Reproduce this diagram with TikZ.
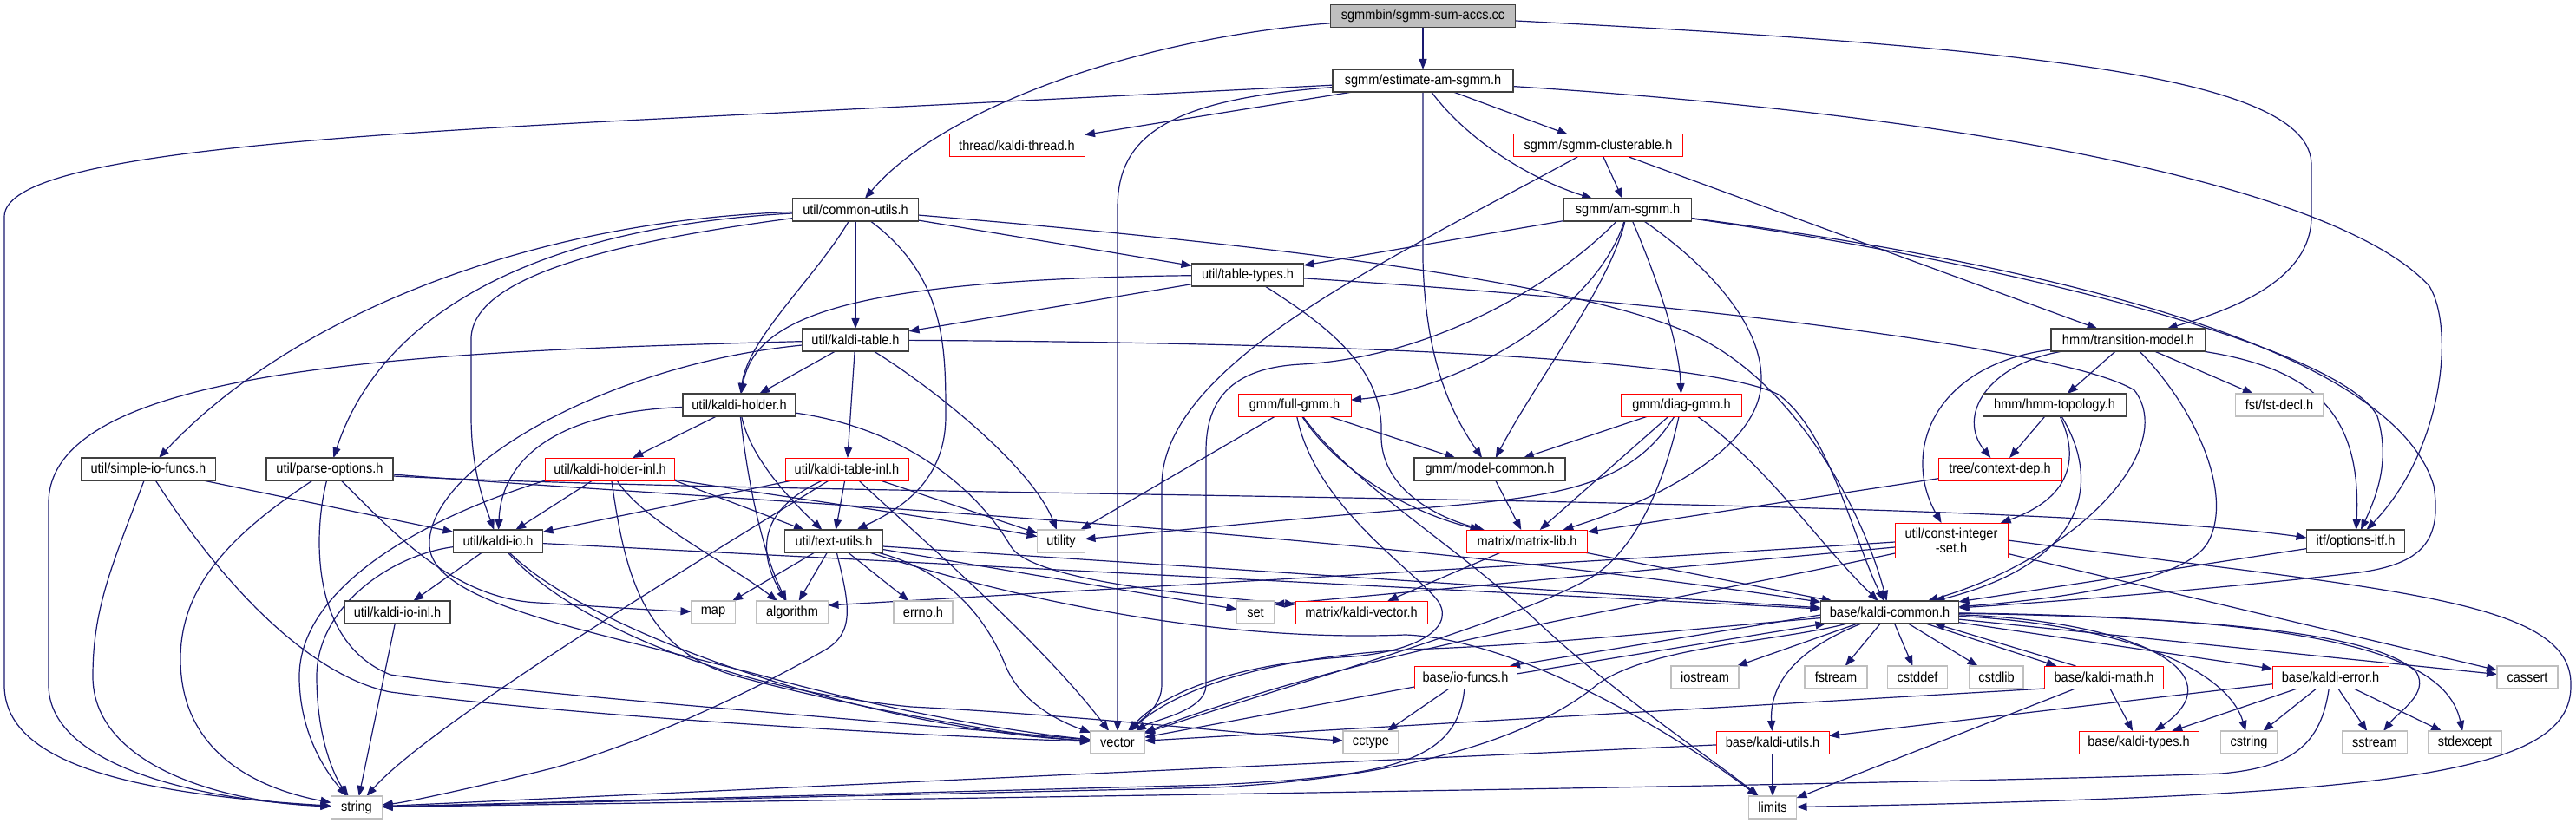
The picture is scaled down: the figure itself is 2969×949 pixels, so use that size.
\documentclass[tikz,border=0pt]{standalone}
\usepackage{fontspec}
\setmainfont{Liberation Sans}[FakeStretch=0.91]
\usetikzlibrary{arrows.meta,calc,backgrounds}
\definecolor{edgec}{HTML}{191970}
\definecolor{lgray}{HTML}{BFBFBF}
\definecolor{dborder}{HTML}{404040}
\begin{document}
\begin{tikzpicture}[x=1pt,y=-1pt,
  every node/.style={rectangle,inner sep=0pt,outer sep=0pt,minimum height=26pt,font=\fontsize{16}{17}\selectfont,fill=white},
  nb/.style={draw=dborder,line width=1.7pt},
  nr/.style={draw=red,line width=1.0pt},
  ng/.style={draw=lgray,line width=1.1pt},
  nroot/.style={draw=dborder,line width=1.7pt,fill=lgray},
  e/.style={draw=edgec,line width=1.2pt,-{Triangle[length=12pt,width=9pt]}}]
\useasboundingbox (0,0) rectangle (2969,949);
% ---------------- nodes
\node[nroot,minimum width=213] (S0) at (1640,18.5) {sgmmbin/sgmm-sum-accs.cc};
\node[nb,minimum width=208] (E) at (1640,93) {sgmm/estimate-am-sgmm.h};
\node[nr,minimum width=156] (TH) at (1172,168) {thread/kaldi-thread.h};
\node[nr,minimum width=195] (C) at (1842,168) {sgmm/sgmm-clusterable.h};
\node[nb,minimum width=145] (CU) at (986,242) {util/common-utils.h};
\node[nb,minimum width=147] (A) at (1876,242) {sgmm/am-sgmm.h};
\node[nb,minimum width=129] (TT) at (1438,317) {util/table-types.h};
\node[nb,minimum width=123] (KT) at (986,392) {util/kaldi-table.h};
\node[nb,minimum width=178] (T) at (2453,392) {hmm/transition-model.h};
\node[nb,minimum width=130] (KH) at (852,467) {util/kaldi-holder.h};
\node[nr,minimum width=130] (FG) at (1492,467) {gmm/full-gmm.h};
\node[nr,minimum width=139] (DG) at (1938,467) {gmm/diag-gmm.h};
\node[nb,minimum width=165] (H) at (2368,467) {hmm/hmm-topology.h};
\node[ng,minimum width=101] (FD) at (2627,467) {fst/fst-decl.h};
\node[nb,minimum width=155] (SI) at (171,541) {util/simple-io-funcs.h};
\node[nb,minimum width=146] (PO) at (380,541) {util/parse-options.h};
\node[nr,minimum width=149] (HI) at (703,541) {util/kaldi-holder-inl.h};
\node[nr,minimum width=142] (TI) at (976,541) {util/kaldi-table-inl.h};
\node[nb,minimum width=174] (MC) at (1717,541) {gmm/model-common.h};
\node[nr,minimum width=142] (CD) at (2305,541) {tree/context-dep.h};
\node[nb,minimum width=103] (KI) at (574,624) {util/kaldi-io.h};
\node[nb,minimum width=113] (TU) at (961,624) {util/text-utils.h};
\node[ng,minimum width=55] (UT) at (1223,624) {utility};
\node[nr,minimum width=139] (ML) at (1760,624) {matrix/matrix-lib.h};
\node[nr,minimum width=130,minimum height=40,align=center] (CI) at (2249,623) {util/const-integer\\-set.h};
\node[nb,minimum width=113] (OI) at (2715,624) {itf/options-itf.h};
\node[nb,minimum width=122] (IO) at (458,706) {util/kaldi-io-inl.h};
\node[ng,minimum width=51] (MAP) at (822,706) {map};
\node[ng,minimum width=83] (ALG) at (913,706) {algorithm};
\node[ng,minimum width=68] (ERR) at (1064,706) {errno.h};
\node[ng,minimum width=43] (SET) at (1447,706) {set};
\node[nr,minimum width=152] (KV) at (1569,706) {matrix/kaldi-vector.h};
\node[nb,minimum width=159] (KC) at (2178,706) {base/kaldi-common.h};
\node[nr,minimum width=118] (IF) at (1689,781) {base/io-funcs.h};
\node[ng,minimum width=78] (IOS) at (1965,781) {iostream};
\node[ng,minimum width=72] (FS) at (2116,781) {fstream};
\node[ng,minimum width=69] (CDF) at (2210,781) {cstddef};
\node[ng,minimum width=62] (CSL) at (2301,781) {cstdlib};
\node[nr,minimum width=137] (KM) at (2425,781) {base/kaldi-math.h};
\node[nr,minimum width=134] (KE) at (2686,781) {base/kaldi-error.h};
\node[ng,minimum width=70] (CAS) at (2913,781) {cassert};
\node[ng,minimum width=62] (VEC) at (1288,856) {vector};
\node[ng,minimum width=64] (CCT) at (1580,856) {cctype};
\node[nr,minimum width=130] (KU) at (2043,856) {base/kaldi-utils.h};
\node[nr,minimum width=138] (KTY) at (2465,856) {base/kaldi-types.h};
\node[ng,minimum width=65] (CST) at (2592,856) {cstring};
\node[ng,minimum width=75] (SS) at (2737,856) {sstream};
\node[ng,minimum width=85] (SE) at (2841,856) {stdexcept};
\node[ng,minimum width=59] (STR) at (411,931) {string};
\node[ng,minimum width=55] (LIM) at (2043,931) {limits};
% ---------------- edges
\begin{pgfonlayer}{background}
\fill[white] (0,0) rectangle (2969,949);
% root
\draw[e] (S0) .. controls (1300,45) and (1080,130) .. (CU);
\draw[e] (S0) -- (E);
\draw[e] (S0) .. controls (2350,55) and (2664,90) .. (2664,190) -- (2664,250) .. controls (2664,320) and (2580,355) .. (T);
% estimate-am-sgmm
\draw[e] (E) -- (760,137) .. controls (300,160) and (5,185) .. (5,250) -- (5,790) .. controls (5,880) and (150,915) .. (STR);
\draw[e] (E) -- (TH);
\draw[e] (E) .. controls (1340,115) and (1288,160) .. (1288,240) -- (VEC);
\draw[e] (E) -- (C);
\draw[e] (E) .. controls (1690,160) and (1760,205) .. (A);
\draw[e] (E) -- (1640,300) .. controls (1643,420) and (1675,480) .. (MC);
\draw[e] (E) .. controls (2300,135) and (2700,220) .. (2800,330) .. controls (2830,380) and (2815,520) .. (OI);
% clusterable
\draw[e] (C) .. controls (1600,300) and (1339,420) .. (1339,560) -- (1339,790) .. controls (1339,815) and (1315,830) .. (VEC);
\draw[e] (C) -- (A);
\draw[e] (C) -- (T);
% am-sgmm
\draw[e] (A) -- (TT);
\draw[e] (A) .. controls (1790,330) and (1650,412) .. (1500,420) .. controls (1420,424) and (1390,460) .. (1390,520) -- (1390,790) .. controls (1390,820) and (1330,830) .. (VEC);
\draw[e] (A) .. controls (1840,360) and (1680,450) .. (FG);
\draw[e] (A) .. controls (1855,330) and (1770,440) .. (MC);
\draw[e] (A) .. controls (1905,310) and (1935,390) .. (DG);
\draw[e] (A) .. controls (1960,300) and (2032,370) .. (2030,440) .. controls (2028,520) and (1900,580) .. (ML);
\draw[e] (A) .. controls (2300,300) and (2700,400) .. (2740,480) .. controls (2755,530) and (2740,570) .. (OI);
\draw[e] (A) .. controls (2400,310) and (2760,410) .. (2805,560) .. controls (2815,625) and (2790,650) .. (2720,660) .. controls (2550,680) and (2350,695) .. (KC);
% transition-model
\draw[e] (T) -- (H);
\draw[e] (T) -- (FD);
\draw[e] (T) .. controls (2290,420) and (2255,480) .. (CD);
\draw[e] (T) .. controls (2230,420) and (2190,520) .. (CI);
\draw[e] (T) .. controls (2670,425) and (2722,480) .. (OI);
\draw[e] (T) .. controls (2530,470) and (2575,570) .. (2545,625) .. controls (2520,670) and (2380,690) .. (KC);
% hmm-topology
\draw[e] (H) -- (CD);
\draw[e] (H) .. controls (2398,530) and (2385,575) .. (CI);
\draw[e] (H) .. controls (2425,560) and (2400,650) .. (KC);
% context-dep
\draw[e] (CD) -- (ML);
% const-integer-set
\draw[e] ($(CI.west)+(0,8)$) -- ($(SET.east)+(0,-9)$);
\draw[e] ($(CI.west)+(0,2)$) .. controls (1800,650) and (1400,672) .. ($(ALG.east)+(0,-8)$);
\draw[e] ($(CI.west)+(0,15)$) .. controls (1900,700) and (1600,740) .. (VEC);
\draw[e] (CI.east) .. controls (2750,680) and (2965,690) .. (2963,790) .. controls (2965,895) and (2750,918) .. (LIM);
\draw[e] (CI) -- (CAS);
% table-types
\draw[e] (TT) -- (KT);
\draw[e] (TT) .. controls (980,322) and (870,365) .. (KH);
\draw[e] (TT) .. controls (1520,370) and (1595,420) .. (1592,500) .. controls (1590,560) and (1650,595) .. (ML);
\draw[e] (TT) .. controls (1900,345) and (2380,400) .. (2460,450) .. controls (2510,515) and (2400,640) .. (KC);
% common-utils
\draw[e] (CU) .. controls (600,255) and (330,370) .. (SI);
\draw[e] (CU) .. controls (620,262) and (440,360) .. (PO);
\draw[e] (CU) .. controls (700,280) and (545,320) .. (543,390) -- (543,480) .. controls (543,545) and (560,585) .. (KI);
\draw[e] (CU) .. controls (940,320) and (862,390) .. (KH);
\draw[e] (CU) -- (KT);
\draw[e] (CU) .. controls (1090,320) and (1090,400) .. (1090,480) .. controls (1090,560) and (1030,590) .. (TU);
\draw[e] (CU) -- (TT);
\draw[e] (CU) .. controls (1500,285) and (1850,330) .. (1965,393) .. controls (2080,455) and (2150,600) .. (KC);
% kaldi-table
\draw[e] (KT) -- (KH);
\draw[e] (KT) -- (TI);
\draw[e] (KT) .. controls (1080,450) and (1190,540) .. (UT);
\draw[e] (KT) .. controls (500,405) and (56,420) .. (56,580) -- (56,790) .. controls (56,880) and (220,922) .. (STR);
\draw[e] (KT) .. controls (700,420) and (490,540) .. (495,630) .. controls (500,700) and (700,730) .. (900,785) .. controls (1050,825) and (1180,845) .. (VEC);
\draw[e] (KT) .. controls (1500,395) and (1960,410) .. (2050,455) .. controls (2110,500) and (2135,620) .. (KC);
% kaldi-holder
\draw[e] (KH) -- (HI);
\draw[e] (KH) .. controls (640,475) and (578,530) .. (KI);
\draw[e] (KH) .. controls (865,530) and (915,580) .. (TU);
\draw[e] (KH) .. controls (862,560) and (880,640) .. (ALG);
\draw[e] (KH) .. controls (1050,495) and (1130,570) .. (1165,630) .. controls (1190,672) and (1400,688) .. ($(KV.west)+(0,-9)$);
% kaldi-holder-inl
\draw[e] (HI) -- (KI);
\draw[e] (HI.south west) .. controls (480,600) and (345,680) .. (345,780) .. controls (345,850) and (380,895) .. (STR);
\draw[e] (HI.south east) -- (TU);
\draw[e] (HI) .. controls (740,600) and (840,650) .. (ALG);
\draw[e] (HI) .. controls (850,565) and (1100,600) .. (UT);
\draw[e] (HI) .. controls (720,660) and (740,750) .. (850,780) .. controls (1000,820) and (1180,850) .. (VEC);
% kaldi-table-inl
\draw[e] (TI) -- (KI);
\draw[e] (TI) -- (TU);
\draw[e] (TI) .. controls (870,590) and (875,640) .. (ALG);
\draw[e] (TI) -- (UT);
\draw[e] (TI) .. controls (1060,620) and (1200,740) .. (VEC);
\draw[e] (TI) .. controls (850,620) and (500,830) .. (STR);
% text-utils
\draw[e] (TU) -- (MAP);
\draw[e] (TU) -- (ALG);
\draw[e] (TU) -- (ERR);
\draw[e] (TU) .. controls (980,700) and (985,730) .. (950,750) .. controls (880,790) and (760,850) .. (640,885) .. controls (560,905) and (470,925) .. (STR);
\draw[e] (TU) .. controls (1100,660) and (1140,720) .. (1160,770) .. controls (1180,815) and (1230,835) .. (VEC);
\draw[e] (TU) -- (SET);
\draw[e] ($(TU.east)+(0,6)$) -- (KC);
\draw[e] (TU) .. controls (1200,700) and (1420,740) .. (1620,732) .. controls (1760,738) and (1950,860) .. (LIM);
% kaldi-io
\draw[e] (KI) -- (IO);
\draw[e] (KI) .. controls (450,640) and (365,700) .. (365,780) .. controls (365,850) and (385,895) .. (STR);
\draw[e] (KI) .. controls (640,700) and (800,790) .. (1050,815) .. controls (1250,825) and (1450,848) .. (CCT);
\draw[e] (KI) -- (KC);
\draw[e] (KI) .. controls (680,730) and (1000,840) .. (VEC);
\draw[e] (IO) -- (STR);
% simple-io-funcs
\draw[e] (SI) -- (KI);
\draw[e] (SI) .. controls (130,650) and (107,700) .. (107,780) .. controls (107,880) and (250,925) .. (STR);
\draw[e] (SI) .. controls (260,680) and (360,780) .. (450,798) .. controls (700,830) and (1100,850) .. (VEC);
% parse-options
\draw[e] (PO) .. controls (260,620) and (208,680) .. (208,760) .. controls (208,870) and (300,910) .. (STR);
\draw[e] (PO) .. controls (362,610) and (355,740) .. (450,778) .. controls (600,800) and (1000,830) .. (VEC);
\draw[e] (PO) .. controls (450,610) and (520,690) .. (620,695) .. controls (700,700) and (760,704) .. (MAP);
\draw[e] ($(PO.east)+(0,6)$) .. controls (800,575) and (1500,605) .. (KC);
\draw[e] ($(PO.east)+(0,8)$) .. controls (1000,575) and (2300,570) .. ($(OI.west)+(0,-4)$);
% gmm
\draw[e] (MC) -- (ML);
\draw[e] (FG) -- (UT);
\draw[e] (FG) -- (MC);
\draw[e] (FG) .. controls (1540,540) and (1620,590) .. (ML);
\draw[e] (FG) .. controls (1515,580) and (1620,650) .. (1655,690) .. controls (1680,720) and (1640,750) .. (1560,757) .. controls (1420,765) and (1340,800) .. (VEC);
\draw[e] (FG) .. controls (1560,560) and (1680,630) .. (1770,715) .. controls (1860,800) and (1980,880) .. (LIM);
\draw[e] (DG) -- (MC);
\draw[e] (DG) -- (ML);
\draw[e] (DG) .. controls (1880,560) and (1800,572) .. (1650,585) .. controls (1450,602) and (1300,617) .. (UT);
\draw[e] (DG) .. controls (1915,570) and (1880,640) .. (1830,668) .. controls (1740,718) and (1500,785) .. (VEC);
\draw[e] (DG) .. controls (2040,540) and (2090,620) .. (KC);
% matrix, options
\draw[e] (ML) -- (KV);
\draw[e] (ML) -- (KC);
\draw[e] (OI) -- (KC);
% kaldi-common
\draw[e] (KC) -- (IOS);
\draw[e] (KC) -- (FS);
\draw[e] (KC) -- (CDF);
\draw[e] (KC) -- (CSL);
\draw[e] ($(KC.south east)+(-38,0)$) -- ($(KM.north west)+(14,0)$);
\draw[e] ($(KM.north west)+(36,0)$) -- ($(KC.south east)+(-28,0)$);
\draw[e] (KC) -- (KE);
\draw[e] (KC) .. controls (2460,716) and (2580,775) .. (KTY);
\draw[e] (KC) .. controls (2470,722) and (2570,780) .. (CST);
\draw[e] (KC) .. controls (2550,712) and (2740,730) .. (2785,775) .. controls (2800,800) and (2765,820) .. (SS);
\draw[e] (KC) .. controls (2700,712) and (2820,760) .. (SE);
\draw[e] (KC) -- (CAS);
\draw[e] (KC) .. controls (2055,755) and (2040,800) .. (KU);
\draw[e] ($(KC.west)+(0,3)$) -- ($(IF.north east)+(-8,0)$);
\draw[e] ($(IF.east)+(0,-4)$) -- ($(KC.south west)+(6,0)$);
\draw[e] (KC) .. controls (1950,725) and (1800,742) .. (1650,748) .. controls (1450,755) and (1350,800) .. (VEC);
\draw[e] (KC) .. controls (2050,740) and (1900,745) .. (1840,790) .. controls (1780,840) and (1650,895) .. (1400,908) -- (STR);
% base
\draw[e] (KU) -- (LIM);
\draw[e] (KU) -- (STR);
\draw[e] (KE) .. controls (2675,860) and (2640,885) .. (2560,892) .. controls (2200,905) and (1000,922) .. (STR);
\draw[e] (KE) -- (KTY);
\draw[e] (KE) -- (CST);
\draw[e] (KE) -- (SS);
\draw[e] (KE) -- (SE);
\draw[e] (KE) -- (KU);
\draw[e] (KM) -- (KTY);
\draw[e] (KM) -- (LIM);
\draw[e] (KM.south west) -- (VEC);
\draw[e] (IF) -- (CCT);
\draw[e] (IF) -- (VEC);
\draw[e] (IF) .. controls (1680,880) and (1600,895) .. (1400,905) -- (STR);
\end{pgfonlayer}
\end{tikzpicture}
\end{document}
